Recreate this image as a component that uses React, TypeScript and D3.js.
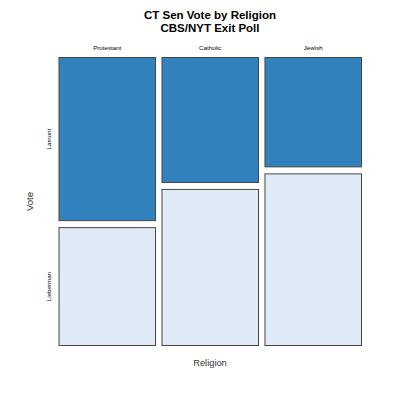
import React from "react";
import * as d3 from "d3";

const religions = ["Protestant", "Catholic", "Jewish"];
const votes = ["Lamont", "Lieberman"];
const lamontShare = [58, 44.5, 39];
const liebermanShare = [42, 55.5, 61];
const colors = ["#3182bd", "#deebf7"];

export default function App() {
  const W = 400, H = 400;
  const left = 58.5, right = 362, top = 57, bottom = 346;
  const gapY = 6;
  const x = d3.scaleBand<string>().domain(religions).range([left, right]).paddingInner(0.053).paddingOuter(0);
  const y = d3.scaleLinear().domain([0, 100]).range([top, bottom - gapY]);

  const tiles: any[] = [];
  religions.forEach((r, i) => {
    const vals = [lamontShare[i], liebermanShare[i]];
    let cum = 0;
    vals.forEach((v, j) => {
      const y0 = y(cum) + j * gapY;
      const y1 = y(cum + v) + j * gapY;
      tiles.push({ r, v: votes[j], j, x: x(r)!, w: x.bandwidth(), y0, y1 });
      cum += v;
    });
  });
  const first = tiles.filter((t) => t.r === religions[0]);
  const font = "'Liberation Sans', Arial, sans-serif";

  return (
    <svg width={W} height={H} style={{ position: "absolute", left: 0, top: 0, background: "#fff" }}>
      <text x={210} y={19} textAnchor="middle" fontFamily={font} fontWeight="bold" fontSize={11.5}>CT Sen Vote by Religion</text>
      <text x={210} y={32} textAnchor="middle" fontFamily={font} fontWeight="bold" fontSize={11.5}>CBS/NYT Exit Poll</text>
      {religions.map((r) => (
        <text key={r} x={x(r)! + x.bandwidth() / 2} y={50} textAnchor="middle" fontFamily={font} fontSize={6.2}>{r}</text>
      ))}
      {first.map((t) => (
        <text key={t.v} transform={`translate(51,${(t.y0 + t.y1) / 2}) rotate(-90)`} textAnchor="middle" fontFamily={font} fontSize={6.2}>{t.v}</text>
      ))}
      {tiles.map((t, k) => (
        <rect key={k} x={t.x + 0.5} y={t.y0 + 0.5} width={t.w - 1} height={t.y1 - t.y0 - 1} fill={colors[t.j]} stroke="#444" strokeWidth={1} />
      ))}
      <text transform={`translate(32.5,201.5) rotate(-90)`} textAnchor="middle" fontFamily={font} fontSize={9.6} fill="#333">Vote</text>
      <text x={210} y={365.7} textAnchor="middle" fontFamily={font} fontSize={9.3} fill="#333">Religion</text>
    </svg>
  );
}
